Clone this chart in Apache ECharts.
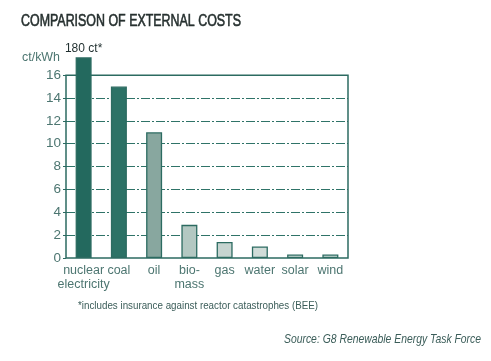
<!DOCTYPE html>
<html><head><meta charset="utf-8">
<script src="https://cdn.jsdelivr.net/npm/echarts@6/dist/echarts.min.js"></script>
<style>html,body{margin:0;padding:0;background:#fff}#c{width:491px;height:361px}</style>
</head><body><div id="c"></div>
<script>
const categories = ['nuclear\nelectricity', 'coal', 'oil', 'bio-\nmass', 'gas', 'water', 'solar', 'wind'];
const values = [180, 15, 11, 2.9, 1.4, 1, 0.3, 0.3];
const barColors = ['#23695e', '#2c7266', '#88a79f', '#b3c8c2', '#c6d4d0', '#d0dcd8', '#d6e2de', '#d6e2de'];
const yTicks = [0, 2, 4, 6, 8, 10, 12, 14, 16];
const titleText = 'COMPARISON OF EXTERNAL COSTS';
const unitText = 'ct/kWh';
const noteText = '*includes insurance against reactor catastrophes (BEE)';
const sourceText = 'Source: G8 Renewable Energy Task Force';

const F = "'Liberation Sans', Arial, sans-serif";
const teal = '#2c6b61';
const txt = '#4d7671';

// horizontal condensing factor so a regular font mimics the condensed original
const mctx = document.createElement('canvas').getContext('2d');
function fit(text, font, width) { mctx.font = font; return width / mctx.measureText(text).width; }

function condText(text, x, y, size, width, opts) {
  opts = opts || {};
  const font = (opts.italic ? 'italic ' : '') + size + 'px ' + F;
  const color = opts.color || '#1f2e2e';
  const style = {text: text, font: font, fill: color,
                 textAlign: opts.align || 'left', textVerticalAlign: 'middle'};
  if (opts.heavy) { style.stroke = color; style.lineWidth = opts.heavy; }
  return {type: 'text', x: x, y: y, scaleX: fit(text, font, width), silent: true, style: style};
}

const chart = echarts.init(document.getElementById('c'), null, {renderer: 'canvas'});
chart.setOption({
  animation: false,
  backgroundColor: '#fff',
  graphic: [
    condText(titleText, 21, 21, 16.5, 220, {color: '#26302f', heavy: 0.6}),
    condText(unitText, 22, 57.5, 13.5, 38, {color: txt}),
    condText(noteText, 78, 305.5, 11.5, 240, {color: '#3b5d59'}),
    condText(sourceText, 481, 339.5, 13.5, 197, {color: '#3b5d59', italic: true, align: 'right'})
  ],
  grid: {left: 66, right: 143, top: 58, bottom: 103},
  xAxis: {
    type: 'category', data: categories,
    axisLine: {show: false}, axisTick: {show: false},
    axisLabel: {fontFamily: F, fontSize: 12.5, color: txt, margin: 6, lineHeight: 14, interval: 0}
  },
  yAxis: {
    type: 'value', min: 0, max: 17.5, interval: 2,
    axisLine: {show: false},
    axisTick: {show: true, length: 3, lineStyle: {color: teal, width: 1}, customValues: yTicks},
    axisLabel: {fontFamily: F, fontSize: 13.5, color: txt, margin: 5, customValues: yTicks},
    splitLine: {show: true, showMinLine: false, showMaxLine: false,
      lineStyle: {color: '#2f7368', width: 1.2, type: [9, 2, 2, 2]}}
  },
  series: [{
    type: 'bar', data: values.map((v, i) => ({value: v, itemStyle: {color: barColors[i]}})),
    barWidth: 16, clip: true,
    itemStyle: {borderColor: teal, borderWidth: 1.3},
    label: {show: true, position: 'top', distance: 3, fontFamily: F, fontSize: 12, color: '#1f2e2e',
      formatter: p => p.dataIndex === 0 ? p.value + ' ct*' : ''},
    markArea: {silent: true, itemStyle: {color: 'rgba(0,0,0,0)', borderColor: teal, borderWidth: 1.5},
      data: [[{yAxis: 0}, {yAxis: 16}]]}
  }]
});
</script></body></html>
